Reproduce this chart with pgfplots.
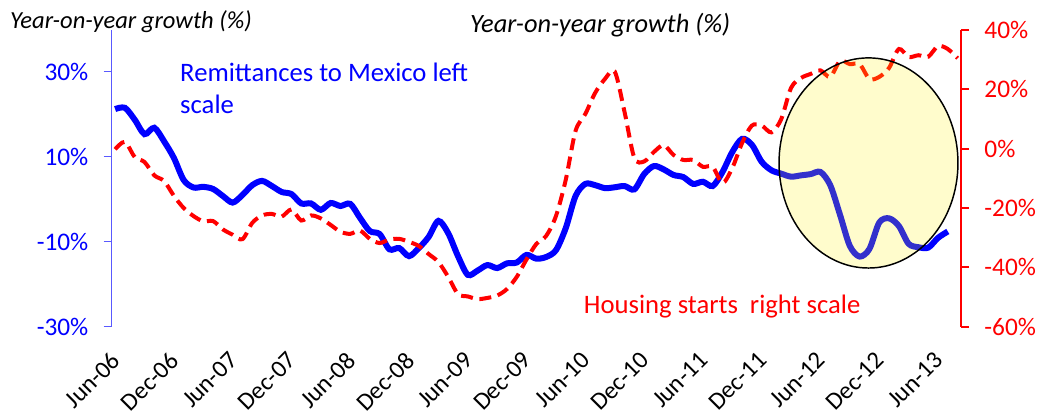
\documentclass[border=0pt]{standalone}
\usepackage{pgfplots}
\pgfplotsset{compat=1.18}
\usepackage{pgfplotstable}
\usepackage{fontspec}
\setmainfont{Carlito}

% monthly index: 0 = Jun-06
\pgfplotstableread{
i remit
0 21.2
1 21.5
2 18.7
3 15.3
4 16.8
5 13.6
6 9.7
7 4.5
8 2.75
9 2.9
10 2.4
11 0.75
12 -0.8
13 1.0
14 3.3
15 4.3
16 3.1
17 1.7
18 1.2
19 -1.0
20 -1.0
21 -2.5
22 -0.9
23 -1.6
24 -1.1
25 -4.4
26 -7.5
27 -8.2
28 -11.8
29 -11.5
30 -13.4
31 -11.5
32 -8.9
33 -5.1
34 -8.0
35 -13.4
36 -17.8
37 -16.8
38 -15.5
39 -16.2
40 -15.1
41 -14.9
42 -13.1
43 -14.0
44 -13.6
45 -12.0
46 -6.8
47 0.75
48 3.6
49 3.3
50 2.6
51 2.8
52 3.1
53 2.3
54 5.9
55 7.8
56 7.0
57 5.7
58 5.2
59 3.6
60 4.1
61 3.1
62 6.4
63 11.1
64 14.2
65 12.8
66 8.8
67 6.8
68 6.0
69 5.3
70 5.6
71 5.9
72 6.4
73 3.3
74 -3.7
75 -11.0
76 -13.5
77 -11.7
78 -5.5
79 -4.5
80 -6.3
81 -10.5
82 -11.3
83 -11.4
84 -9.1
85 -7.6
}\remit

\pgfplotstableread{
i starts
0 -0.2
1 2.3
2 -2.8
3 -4.5
4 -9.0
5 -10.9
6 -15.9
7 -20.0
8 -22.7
9 -24.5
10 -24.4
11 -27.2
12 -29.0
13 -30.5
14 -25.0
15 -22.5
16 -22.0
17 -22.9
18 -20.5
19 -24.2
20 -22.5
21 -23.5
22 -25.7
23 -28.0
24 -28.7
25 -27.6
26 -30.4
27 -31.8
28 -30.6
29 -30.4
30 -31.4
31 -32.8
32 -35.5
33 -38.2
34 -43.2
35 -49.0
36 -49.8
37 -50.7
38 -50.3
39 -49.5
40 -47.3
41 -43.2
42 -37.3
43 -32.1
44 -29.4
45 -22.7
46 -10.5
47 6.0
48 11.7
49 18.8
50 23.5
51 26.0
52 12.4
53 -3.1
54 -4.3
55 -1.1
56 1.2
57 -2.1
58 -3.8
59 -3.8
60 -6.1
61 -6.1
62 -11.6
63 -6.5
64 1.9
65 7.8
66 7.8
67 5.5
68 10.0
69 20.5
70 23.8
71 25.2
72 26.4
73 24.2
74 29.6
75 28.5
76 28.5
77 23.5
78 24.2
79 27.2
80 33.6
81 30.9
82 31.5
83 31.0
84 34.6
85 33.6
86 30.5
}\starts

\pgfplotsset{
  common/.style={
    scale only axis, width=637pt, height=222.5pt,
    xmin=-0.35, xmax=86.35,
    tick align=outside, major tick length=6pt,
    clip=false,
  }
}

\begin{document}
\begin{tikzpicture}
% page frame, 1px = 0.75pt
\useasboundingbox (-83.775pt,-64.725pt) rectangle (698.475pt,245.025pt);

\begin{axis}[common,
  ymin=-30, ymax=39.8,
  axis y line*=left, axis x line*=bottom,
  x axis line style={draw=none},
  y axis line style={blue!65, line width=1pt},
  xtick={0,6,...,84},
  xticklabels={Jun-06,Dec-06,Jun-07,Dec-07,Jun-08,Dec-08,Jun-09,Dec-09,Jun-10,Dec-10,Jun-11,Dec-11,Jun-12,Dec-12,Jun-13},
  xtick style={draw=none},
  xticklabel style={xshift=-3.8pt, yshift=-7pt, rotate=45, anchor=north east, font=\fontsize{18.5}{18.5}\selectfont},
  ytick={-30,-10,10,30},
  yticklabels={-30\%,-10\%,10\%,30\%},
  ytick style={blue!65, line width=1pt},
  yticklabel style={text=blue, font=\fontsize{19}{19}\selectfont, xshift=-8pt},
]
\addplot[blue, line width=4.5pt, smooth, tension=0.5] table[x=i, y=remit] {\remit};
\end{axis}

\begin{axis}[common,
  ymin=-60, ymax=40,
  axis y line*=right, axis x line=none,
  y axis line style={red, line width=1.5pt},
  ytick={-60,-40,...,40},
  yticklabels={-60\%,-40\%,-20\%,0\%,20\%,40\%},
  ytick style={red, line width=1.5pt},
  yticklabel style={text=red, font=\fontsize{19}{19}\selectfont, xshift=8pt},
]
\addplot[red, line width=3pt, dash pattern=on 9pt off 5pt, smooth, tension=0.5] table[x=i, y=starts] {\starts};
\end{axis}

\fill[yellow, fill opacity=0.2] (567.6pt,122.8pt) ellipse [x radius=67.1pt, y radius=78.8pt];
\draw[black, line width=1.1pt] (567.6pt,122.8pt) ellipse [x radius=67.1pt, y radius=78.8pt];

\node[anchor=west, inner sep=0pt, font=\fontsize{18.4}{18.4}\itshape] at (-76.3pt,228.5pt) {Year-on-year growth (\%)};
\node[anchor=west, inner sep=0pt, font=\fontsize{19.8}{19.8}\itshape] at (268.7pt,226pt) {Year-on-year growth (\%)};
\node[anchor=north west, inner sep=0pt, align=left, text=blue, font=\fontsize{20}{23.8}\selectfont] at (51.2pt,198pt) {Remittances to Mexico left\\scale};
\node[anchor=west, inner sep=0pt, text=red, font=\fontsize{20}{20}\selectfont] at (354pt,15pt) {Housing starts\ \ right scale};
\end{tikzpicture}
\end{document}
